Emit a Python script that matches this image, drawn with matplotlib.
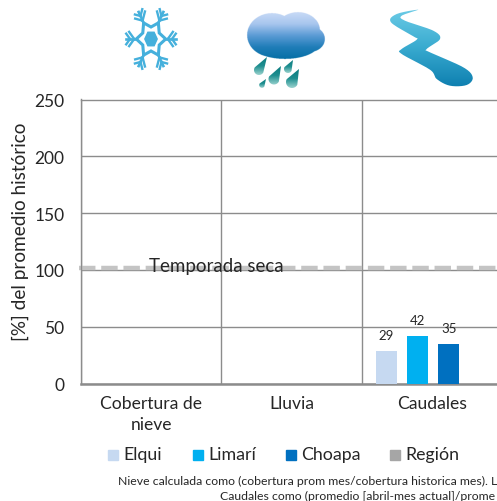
import numpy as np
import matplotlib
matplotlib.use('Agg')
import matplotlib.pyplot as plt
from matplotlib.patches import Path, PathPatch, Rectangle
from matplotlib.colors import LinearSegmentedColormap

plt.rcParams['font.family'] = ['Lato', 'DejaVu Sans']

categorias = ['Cobertura de\nnieve', 'Lluvia', 'Caudales']
elqui = [np.nan, np.nan, 29]
limari = [np.nan, np.nan, 42]
choapa = [np.nan, np.nan, 35]
region = [np.nan, np.nan, np.nan]
series = ['Elqui', 'Limarí', 'Choapa', 'Región']
colores = ['#C6D9F1', '#00B0F0', '#0070C0', '#A6A6A6']
yticks = [0, 50, 100, 150, 200, 250]
temporada = 102

nota1 = 'Nieve calculada como (cobertura prom mes/cobertura historica mes). L'
nota2 = 'Caudales como (promedio [abril-mes actual]/prome'

W, H = 497, 502
fig = plt.figure(figsize=(W / 100, H / 100), dpi=100)

# los ejes siguen mas alla del borde derecho, el tercer panel queda cortado
ax = fig.add_axes([81 / W, 1 - 384.5 / H, 421 / W, 284 / H])
ax.set_xlim(0, 3)
ax.set_ylim(0, 250)

x = np.arange(3) + 0.5
paso = 0.223
for i, vals in enumerate([elqui, limari, choapa, region]):
    pos = x + (i - 1.5) * paso + 0.01
    barras = ax.bar(pos, vals, 0.15, color=colores[i], zorder=3)
    for xp, v in zip(pos, vals):
        if not np.isnan(v):
            ax.annotate(f'{v:.0f}', (xp, v), xytext=(0, 7), textcoords='offset points',
                        ha='center', va='bottom', fontsize=9.5, color='#262626', zorder=5)

gris = '#8C8C8C'
ax.set_xticks([0, 1, 2, 3])
ax.set_xticklabels([])
ax.set_xticks(x, minor=True)
ax.set_xticklabels(categorias, minor=True, fontsize=12.6, color='#262626', linespacing=1.4)
ax.set_yticks(yticks)
ax.tick_params(axis='x', which='both', length=0, pad=8)
ax.tick_params(axis='y', length=0, pad=12, labelsize=12.5, labelcolor='#262626')
ax.grid(True, which='major', color=gris, lw=1, zorder=1)
ax.set_axisbelow(True)
for lado in ax.spines.values():
    lado.set_color(gris)
    lado.set_linewidth(1)
ax.spines['bottom'].set_linewidth(1.8)
ax.set_ylabel('[%] del promedio histórico', fontsize=13.7, color='#262626')
ax.yaxis.set_label_coords((29 - 81) / 421, (384.5 - 232) / 284)

ax.plot([-0.015, 3], [temporada, temporada], color='#C4C4C4', lw=3.2, zorder=2,
        dashes=(3.7, 1.3), clip_on=False)
ax.text(0.966, 104, 'Temporada seca', ha='center', va='center',
        fontsize=13.5, color='#262626', zorder=4)

# leyenda a mano, cada cuadro seguido de su nombre
for nombre, color, xl in zip(series, colores, [108, 193, 286, 390]):
    fig.patches.append(Rectangle((xl / W, 1 - 460.5 / H), 10 / W, 10 / H, color=color,
                                 transform=fig.transFigure, figure=fig))
    fig.text((xl + 15) / W, 1 - 455 / H, nombre, fontsize=12.8, color='#262626', va='center')

fig.text(118 / W, 1 - 481 / H, nota1, fontsize=8.8, color='#262626', va='center')
fig.text(220 / W, 1 - 496 / H, nota2, fontsize=8.8, color='#262626', va='center')

# capa de iconos en coordenadas de pixel
iconos = fig.add_axes([0, 0, 1, 1], zorder=6)
iconos.set_xlim(0, W)
iconos.set_ylim(H, 0)
iconos.axis('off')


def suave(puntos, n=12):
    # catmull-rom cerrada por los puntos del contorno
    p = np.array(puntos, float)
    t = np.linspace(0, 1, n, endpoint=False)[:, None]
    salida = []
    for k in range(len(p)):
        p0, p1, p2, p3 = p[k - 1], p[k], p[(k + 1) % len(p)], p[(k + 2) % len(p)]
        salida.append(0.5 * (2 * p1 + (p2 - p0) * t + (2 * p0 - 5 * p1 + 4 * p2 - p3) * t ** 2
                             + (3 * p1 - p0 - 3 * p2 + p3) * t ** 3))
    return np.vstack(salida)


def degradado(path, colores_g, y0, y1, x0, x1):
    cmap = LinearSegmentedColormap.from_list('g', colores_g)
    grad = np.linspace(0, 1, 128).reshape(-1, 1)
    im = iconos.imshow(grad, cmap=cmap, extent=(x0, x1, y1, y0), aspect='auto', zorder=2)
    im.set_clip_path(PathPatch(path, transform=iconos.transData))


# copo de nieve, algo estirado en vertical
azul = '#45B0DC'
cx, cy = 151, 40
sx, sy = 0.95, 1.2


def copo(dx, dy):
    return cx + sx * dx, cy + sy * dy


r = 26
for ang in np.deg2rad(np.arange(0, 360, 60)):
    d = np.array([np.cos(ang), np.sin(ang)])
    xs, ys = copo(*(np.array([[0, 0], r * d]).T))
    iconos.plot(xs, ys, color=azul, lw=1.9, zorder=2)
    for f, largo in [(0.68, 8), (0.85, 6)]:
        base = f * r * d
        for s in (-1, 1):
            a2 = ang + s * np.deg2rad(48)
            fin = base + largo * np.array([np.cos(a2), np.sin(a2)])
            xs, ys = copo(*np.array([base, fin]).T)
            iconos.plot(xs, ys, color=azul, lw=1.7, zorder=2)
estrella = []
for k in range(12):
    ang = np.deg2rad(k * 30)
    rr = 15.5 if k % 2 == 0 else 10
    estrella.append(copo(rr * np.cos(ang), rr * np.sin(ang)))
iconos.add_patch(plt.Polygon(estrella, closed=True, fc='white', ec=azul, lw=2.2, zorder=2))
iconos.add_patch(plt.Polygon(
    [copo(6.5 * np.cos(np.deg2rad(a)), 6.5 * np.sin(np.deg2rad(a))) for a in range(0, 360, 60)],
    closed=True, color=azul, zorder=2))

# nube, union de elipses con degradado vertical
elipses = [(272, 36, 25, 22), (298, 31, 22, 18), (310, 40, 15, 13), (285, 45, 34, 15)]
xx, yy = np.meshgrid(np.linspace(246, 326, 320), np.linspace(12, 61, 196))
masc = np.zeros_like(xx, bool)
for ex, ey, ea, eb in elipses:
    masc |= ((xx - ex) / ea) ** 2 + ((yy - ey) / eb) ** 2 <= 1
mapa = LinearSegmentedColormap.from_list(
    'nube', ['#C8DAF6', '#A8C6EE', '#5B9BD5', '#1F7DB8', '#066FA6'])
img = mapa((yy - 13) / 47)
img[..., 3] = masc
iconos.imshow(img, extent=(246, 326, 61, 12), aspect='auto', zorder=2, interpolation='antialiased')

# gotas, punta y centro del bulbo
gotas = [(267, 58, 259, 71, 5), (293, 61, 288, 70, 4),
         (281, 67, 274, 80, 5.5), (299, 70, 292, 83, 6), (266, 80, 262, 86, 2.8)]
for tx, ty, bx, by, rad in gotas:
    base_ang = np.arctan2(by - ty, bx - tx)
    arco = base_ang + np.linspace(-np.pi / 2, np.pi / 2, 24)
    verts = [(tx, ty)] + [(bx + rad * np.cos(a), by + rad * np.sin(a)) for a in arco] + [(tx, ty)]
    camino = Path(verts)
    degradado(camino, ['#0C7C80', '#1F8F90', '#9BD3CF'], ty, by + rad, tx - 14, tx + 8)

# rio
rio = [(418.3, 10.7), (396.7, 15), (391, 23.3), (413.3, 37.3), (416.7, 40.7), (401.7, 50),
       (401.7, 55), (430, 70.7), (436.7, 80), (450, 86.7), (466.7, 86), (472.7, 78.3),
       (463.3, 68.3), (430, 53.3), (426.7, 50), (440, 40), (433.3, 31.7), (405, 21.7), (401.7, 16.7)]
degradado(Path(suave(rio)), ['#6BCBE6', '#38AACF', '#0E7FB0'], 10, 88, 385, 480)

fig.savefig('out.png', dpi=100)
